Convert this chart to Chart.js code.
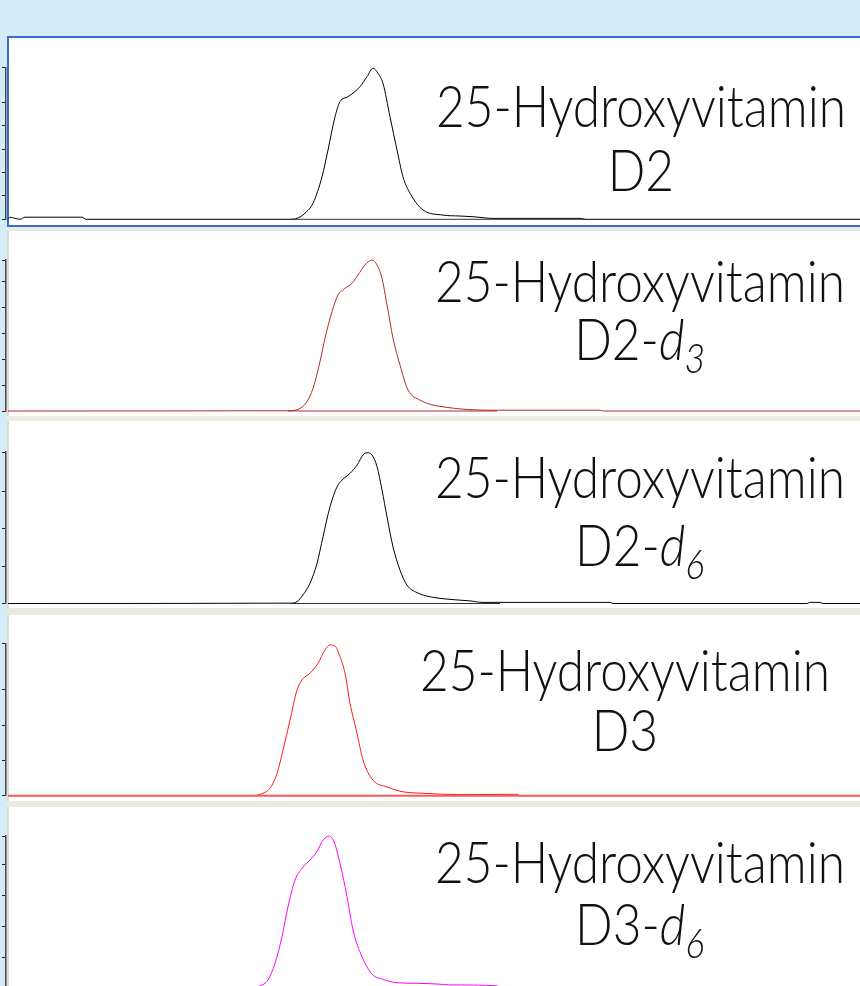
<!DOCTYPE html>
<html>
<head>
<meta charset="utf-8">
<script src="https://cdn.jsdelivr.net/npm/chart.js@4/dist/chart.umd.min.js"></script>
<style>
  html, body { margin:0; padding:0; width:860px; height:986px; overflow:hidden; background:#d2ecfa; }
  .panel { position:absolute; left:7px; width:870px; background:#fff; box-sizing:border-box; border-left:2px solid #dcdcd4; }
  #p1 { border:2px solid #3a6ec8; }
  .sep { position:absolute; left:7px; width:870px; background:#eeebdd; }
  .sep::after { content:''; position:absolute; left:0; right:0; top:40%; height:2px; background:#e6ebe8; }
  canvas { position:absolute; left:0; }
  .lbl { position:absolute; left:0; top:0; white-space:nowrap; font-family:"Lato Light","Lato","Open Sans",sans-serif; font-weight:300; color:#111; line-height:1.2; transform-origin:50% 50%; }
  .lbl i { font-style:italic; }
  .lbl sub { font-size:0.72em; font-style:italic; vertical-align:-0.31em; line-height:0; }
  .bl { display:inline-block; width:0; height:0; vertical-align:baseline; }
</style>
</head>
<body>
<div class="panel" id="p1" style="top:36px;height:191px;"></div>
<div class="sep" style="top:227px;height:4px;"></div>
<div class="panel" style="top:231px;height:185px;"></div>
<div class="sep" style="top:416px;height:5px;"></div>
<div class="panel" style="top:421px;height:187px;"></div>
<div class="sep" style="top:608px;height:7px;"></div>
<div class="panel" style="top:615px;height:186px;"></div>
<div class="sep" style="top:801px;height:6px;"></div>
<div class="panel" style="top:807px;height:190px;"></div>

<script>
// ---------- DATA (retention time, min ; intensity, arbitrary units) ----------
const rtD2   = [0.02,0.04,0.09,0.14,0.19,0.76,0.80,2.84,2.91,2.99,3.07,3.16,3.22,3.29,3.34,3.42,3.54,3.61,3.67,3.72,3.77,3.84,3.91,3.97,4.06,4.17,4.37,4.54,4.67,4.87,5.74,5.79,8.54];
const intD2  = [0,0.09,0.04,0,0.09,0.09,0,0,0.04,0.26,0.69,1.82,2.97,4.39,5.04,5.25,5.68,6.11,6.47,6.25,5.82,4.39,2.97,1.82,0.97,0.40,0.18,0.14,0.11,0.04,0.04,0,0];

const rtD2d3  = [0.02,2.82,2.94,3.01,3.07,3.14,3.19,3.26,3.32,3.39,3.46,3.52,3.59,3.66,3.71,3.76,3.81,3.87,3.94,4.02,4.14,4.27,4.41,4.54,4.71,4.91,5.94,5.97,8.54];
const intD2d3 = [0,0.01,0.10,0.36,0.87,1.90,2.80,3.82,4.46,4.72,4.91,5.23,5.62,5.81,5.62,5.10,4.08,2.80,1.77,0.81,0.42,0.23,0.14,0.08,0.04,0.03,0.03,0,0];

const rtD2d6  = [0.02,2.84,2.91,2.97,3.04,3.11,3.17,3.24,3.31,3.36,3.44,3.51,3.57,3.61,3.66,3.71,3.76,3.81,3.87,3.94,4.01,4.11,4.24,4.44,4.64,4.77,4.94,6.04,6.07,8.01,8.04,8.14,8.17,8.54];
const intD2d6 = [0,0.01,0.05,0.23,0.54,1.07,1.78,2.58,3.11,3.29,3.47,3.69,3.96,4.02,3.96,3.65,3.03,2.31,1.51,0.89,0.49,0.29,0.18,0.11,0.07,0.03,0.03,0.03,0,0,0.03,0.03,0,0];

const rtD3   = [0.02,2.46,2.57,2.64,2.71,2.77,2.84,2.91,2.96,3.04,3.12,3.19,3.24,3.29,3.34,3.39,3.44,3.51,3.57,3.67,3.81,3.97,4.17,4.37,4.57,5.11,5.14,8.54];
const intD3  = [0,0,0.07,0.21,0.63,1.29,2.14,2.99,3.28,3.47,3.75,4.13,4.27,4.24,3.94,3.47,2.62,1.77,1.01,0.44,0.25,0.11,0.07,0.04,0.03,0.04,0,0];

const rtD3d6  = [0.02,2.44,2.54,2.62,2.69,2.76,2.82,2.89,2.96,3.04,3.11,3.17,3.23,3.28,3.34,3.41,3.47,3.56,3.66,3.77,3.91,4.11,4.31,4.44,4.91,4.94,8.54];
const intD3d6 = [0,0,0.07,0.26,0.80,1.65,2.62,3.48,3.86,4.13,4.40,4.77,4.90,4.72,4.02,2.95,1.87,1.01,0.45,0.28,0.17,0.15,0.13,0.10,0.07,0,0];

// integration baselines (start, end retention time)
const baseD2   = [2.84, 5.79];
const baseD2d3 = [2.82, 4.91];
const baseD2d6 = [2.84, 4.94];
const baseD3   = [0.02, 8.54];
const baseD3d6 = [2.44, 4.94];

// y-axis maxima (intensity units) and labels
const yMax = [6.5, 5.8, 4.04, 4.3, 4.9];
const labelLine1 = '25-Hydroxyvitamin';
const labelCompound = ['D2', 'D2-', 'D2-', 'D3', 'D3-'];
const labelIsotope  = ['', '3', '6', '', '6'];

// ---------- LAYOUT ----------
const series = [
  {rt: rtD2,   it: intD2,   base: baseD2,   color:'#000000', baseColor:'#333333', baseW:1},
  {rt: rtD2d3, it: intD2d3, base: baseD2d3, color:'#b32a2a', baseColor:'#b32a2a', baseW:1},
  {rt: rtD2d6, it: intD2d6, base: baseD2d6, color:'#000000', baseColor:'#333333', baseW:1},
  {rt: rtD3,   it: intD3,   base: baseD3,   color:'#ff1a1a', baseColor:'#ff5a5a', baseW:2},
  {rt: rtD3d6, it: intD3d6, base: baseD3d6, color:'#ff00ff', baseColor:'#ff00ff', baseW:1}
];
const layout = [
  {top:38,  h:187, baseY:219.3, tick:23.35},
  {top:232, h:184, baseY:411,   tick:26},
  {top:422, h:186, baseY:603.5, tick:37.5},
  {top:616, h:185, baseY:795.7, tick:35.3},
  {top:808, h:186, baseY:988,   tick:31}
];
const labelPos = [
  {cx:641, b1:127, b2:191},
  {cx:640, b1:302, b2:360},
  {cx:640, b1:498, b2:566},
  {cx:625, b1:691, b2:751},
  {cx:640, b1:883, b2:945}
];
const line1Width = 410;

series.forEach((s, i) => {
  const L = layout[i];
  const cv = document.createElement('canvas');
  cv.width = 860; cv.height = L.h;
  cv.style.top = L.top + 'px';
  cv.style.width = '860px'; cv.style.height = L.h + 'px';
  document.body.appendChild(cv);
  const chartTop = L.baseY - yMax[i] * L.tick;
  const padTop = chartTop - L.top;
  const padBottom = L.top + L.h - L.baseY;
  new Chart(cv, {
    type: 'line',
    data: {
      datasets: [
        { data: s.base.map(t => ({x: t, y: 0})), borderColor: s.baseColor, borderWidth: s.baseW, pointRadius: 0, tension: 0, clip: false },
        { data: s.rt.map((t, k) => ({x: t, y: s.it[k]})), borderColor: s.color, borderWidth: 1, pointRadius: 0, cubicInterpolationMode: 'monotone', clip: false }
      ]
    },
    options: {
      responsive: false, animation: false, devicePixelRatio: 1,
      layout: { padding: { left: 2, right: 0, top: padTop, bottom: padBottom } },
      plugins: { legend: { display: false }, tooltip: { enabled: false }, title: { display: false } },
      scales: {
        x: { type: 'linear', min: 0, max: 8.54, display: false },
        y: {
          type: 'linear', min: 0, max: yMax[i],
          ticks: { display: false, stepSize: 1 },
          grid: { drawOnChartArea: false, drawTicks: true, tickLength: 4, color: '#222', lineWidth: 1 },
          border: { display: true, color: '#4a4a4a', width: 1.5 }
        }
      }
    }
  });
});

function makeLine(html, fs) {
  const d = document.createElement('div');
  d.className = 'lbl';
  d.style.fontSize = fs + 'px';
  d.innerHTML = '<span class="bl"></span>' + html;
  document.body.appendChild(d);
  return d;
}
function place(d, cx, baseY, sx) {
  const r = d.getBoundingClientRect();
  const b = d.querySelector('.bl').getBoundingClientRect().top - r.top;
  d.style.left = (cx - r.width / 2) + 'px';
  d.style.top = (baseY - b) + 'px';
  d.style.transform = 'scaleX(' + sx + ')';
}
function drawLabels() {
  const fs = 58;
  labelPos.forEach((p, i) => {
    const l1 = makeLine(labelLine1, fs);
    const iso = labelIsotope[i] ? '<i>d</i><sub>' + labelIsotope[i] + '</sub>' : '';
    const l2 = makeLine(labelCompound[i] + iso, fs);
    const sx = line1Width / l1.getBoundingClientRect().width;
    place(l1, p.cx, p.b1, sx);
    place(l2, p.cx, p.b2, sx);
  });
}
if (document.fonts && document.fonts.ready) { document.fonts.ready.then(drawLabels); } else { drawLabels(); }
</script>
</body>
</html>
